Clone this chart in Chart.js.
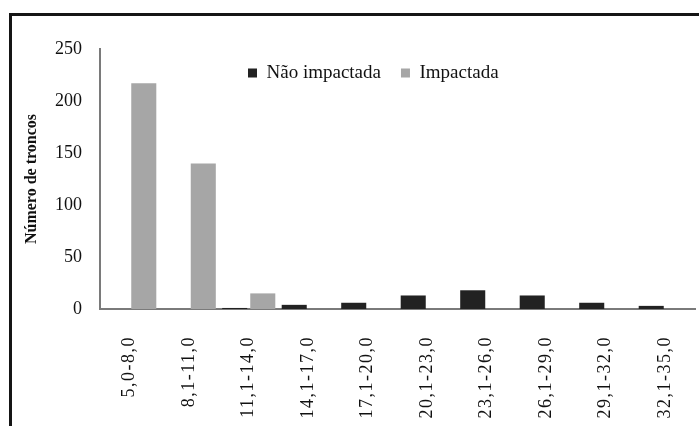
<!DOCTYPE html>
<html>
<head>
<meta charset="utf-8">
<script src="https://cdn.jsdelivr.net/npm/chart.js@4/dist/chart.umd.min.js"></script>
<style>
  body { margin: 0; background: #fff; }
  #wrap { position: relative; width: 699px; height: 426px; overflow: hidden; }
  #frame { position: absolute; left: 9px; top: 13px; width: 720px; height: 440px;
           border-left: 3px solid #151515; border-top: 3px solid #151515; pointer-events: none; }
</style>
</head>
<body>
<div id="wrap">
  <canvas id="mycanvas" width="699" height="426"></canvas>
  <div id="frame"></div>
</div>
<script>
var classes = ["5,0-8,0", "8,1-11,0", "11,1-14,0", "14,1-17,0", "17,1-20,0",
               "20,1-23,0", "23,1-26,0", "26,1-29,0", "29,1-32,0", "32,1-35,0"];
var naoImpactada = [0, 0, 1, 4, 6, 13, 18, 13, 6, 3];
var impactada = [217, 140, 15, 0, 0, 0, 0, 0, 0, 0];
var yTicks = [0, 50, 100, 150, 200, 250];

var serif = "'Liberation Serif', 'Times New Roman', serif";

// legend sits inside the plot in the original: move it down/left after layout
var legendShift = {
  id: 'legendShift',
  afterLayout: function(chart) {
    var lg = chart.legend;
    if (!lg) return;
    var pad = lg.options.labels.padding;
    var dx = 248 - (lg.left + pad);
    var dy = 73 - (lg.top + pad + 9.5);
    lg.left += dx; lg.right += dx;
    lg.top += dy; lg.bottom += dy;
  }
};

// x labels are spaced out a bit in the original
function spacedLabels(scale) {
  if (scale._spaced) return;
  scale._spaced = true;
  var orig = scale.drawLabels;
  scale.drawLabels = function(area) {
    var c = this.ctx;
    c.save();
    c.letterSpacing = '1.5px';
    orig.call(this, area);
    c.restore();
  };
}

var chartdata = {
  labels: classes,
  datasets: [
    {
      label: 'Não impactada',
      backgroundColor: '#222222',
      data: naoImpactada
    },
    {
      label: 'Impactada',
      backgroundColor: '#a6a6a6',
      data: impactada
    }
  ]
};

var ctx = document.getElementById('mycanvas');
var barGraph = new Chart(ctx, {
  type: 'bar',
  data: chartdata,
  plugins: [legendShift],
  options: {
    responsive: false,
    animation: false,
    layout: { padding: { left: 14, right: 4, top: 0, bottom: 0 } },
    datasets: { bar: { categoryPercentage: 0.943, barPercentage: 0.893 } },
    plugins: {
      tooltip: { enabled: false },
      legend: {
        position: 'top',
        align: 'start',
        labels: {
          font: { family: serif, size: 19 },
          color: '#111',
          boxWidth: 9,
          boxHeight: 9,
          padding: 20
        }
      }
    },
    scales: {
      x: {
        grid: { display: false, drawTicks: false },
        border: { display: true, color: '#7a7a7a', width: 2 },
        ticks: {
          autoSkip: false,
          minRotation: 90,
          maxRotation: 90,
          padding: 27,
          color: '#111',
          font: { family: serif, size: 18 }
        },
        afterFit: function(s) {
          s.height = 117;
          s.paddingLeft = 0;
          s.paddingRight = 0;
          spacedLabels(s);
        }
      },
      y: {
        min: 0,
        max: 250,
        afterBuildTicks: function(s) { s.ticks = yTicks.map(function(v) { return { value: v }; }); },
        grid: { display: false, drawTicks: false },
        border: { display: true, color: '#7a7a7a', width: 2 },
        ticks: {
          padding: 18,
          color: '#111',
          font: { family: serif, size: 18 }
        },
        title: {
          display: true,
          text: 'Número de troncos',
          color: '#111',
          font: { family: serif, size: 16, weight: 'bold' },
          padding: { top: 8, bottom: 0 }
        },
        afterFit: function(s) { s.width = 86; }
      }
    }
  }
});
</script>
</body>
</html>
